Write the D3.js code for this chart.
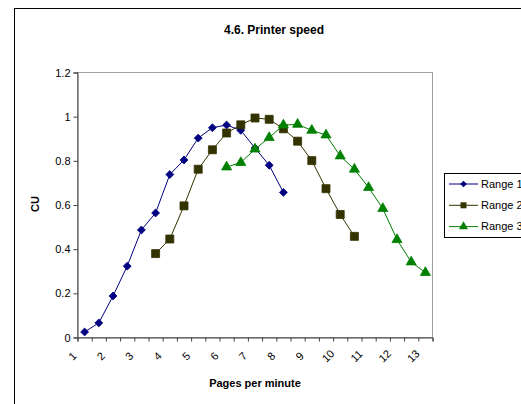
<!DOCTYPE html>
<html>
<head>
<meta charset="utf-8">
<script src="https://cdn.jsdelivr.net/npm/d3@7/dist/d3.min.js"></script>
<style>
  html, body { margin: 0; padding: 0; background: #fff; }
  svg { display: block; font-family: "Liberation Sans", Arial, sans-serif; }
</style>
</head>
<body>
<svg id="chart" width="521" height="404"></svg>
<script>
// ---- data ----
const categories = [1.25, 1.75, 2.25, 2.75, 3.25, 3.75, 4.25, 4.75, 5.25, 5.75,
                    6.25, 6.75, 7.25, 7.75, 8.25, 8.75, 9.25, 9.75, 10.25, 10.75,
                    11.25, 11.75, 12.25, 12.75, 13.25];
const range1 = [0.025, 0.066, 0.188, 0.323, 0.487, 0.564, 0.738, 0.804, 0.903, 0.950,
                0.962, 0.938, 0.858, 0.780, 0.657, null, null, null, null, null,
                null, null, null, null, null];
const range2 = [null, null, null, null, null, 0.380, 0.446, 0.596, 0.762, 0.850,
                0.926, 0.963, 0.994, 0.988, 0.945, 0.889, 0.801, 0.674, 0.557, 0.458,
                null, null, null, null, null];
const range3 = [null, null, null, null, null, null, null, null, null, null,
                0.772, 0.792, 0.853, 0.905, 0.962, 0.965, 0.938, 0.917, 0.822, 0.762,
                0.679, 0.584, 0.443, 0.342, 0.294];
const seriesNames = ["Range 1", "Range 2", "Range 3"];
const xTickLabels = [1, 2, 3, 4, 5, 6, 7, 8, 9, 10, 11, 12, 13];
const xMinorTicks = [1, 1.5, 2, 2.5, 3, 3.5, 4, 4.5, 5, 5.5, 6, 6.5, 7, 7.5, 8, 8.5,
                     9, 9.5, 10, 10.5, 11, 11.5, 12, 12.5, 13, 13.5];
const yTicks = [0, 0.2, 0.4, 0.6, 0.8, 1, 1.2];

// ---- layout ----
const svg = d3.select("#chart");
const pLeft = 77.5, pRight = 432.5, pTop = 72.5, pBottom = 337.5;
const x = d3.scaleLinear().domain([1, 13.5]).range([pLeft, pRight]);
const y = d3.scaleLinear().domain([0, 1.2]).range([pBottom, pTop]);

// outer chart frame
svg.append("rect").attr("x", 14.5).attr("y", 8.5).attr("width", 540).attr("height", 420)
  .attr("fill", "#fff").attr("stroke", "#000").attr("stroke-width", 1);

// plot area frame
svg.append("rect").attr("x", pLeft).attr("y", pTop).attr("width", pRight - pLeft).attr("height", pBottom - pTop)
  .attr("fill", "#fff").attr("stroke", "#a0a0a0").attr("stroke-width", 1);

// title
svg.append("text").attr("x", 274).attr("y", 34).attr("text-anchor", "middle")
  .attr("font-size", 12).attr("font-weight", "bold").text("4.6. Printer speed");

// y axis
const yAxis = svg.append("g").attr("transform", `translate(${pLeft},0)`)
  .call(d3.axisLeft(y).tickValues(yTicks).tickSize(4).tickPadding(3)
        .tickFormat(d => String(+d.toFixed(1))));
yAxis.select(".domain").attr("stroke", "#404040");
yAxis.selectAll(".tick line").attr("stroke", "#404040");
yAxis.selectAll(".tick text").attr("font-size", 11).attr("fill", "#000")
  .attr("font-family", "'Liberation Sans', Arial, sans-serif");

// x axis
const xAxis = svg.append("g").attr("transform", `translate(0,${pBottom})`)
  .call(d3.axisBottom(x).tickValues(xMinorTicks).tickSize(4).tickFormat(""));
xAxis.select(".domain").attr("stroke", "#404040");
xAxis.selectAll(".tick line").attr("stroke", "#404040");

svg.append("g").selectAll("text").data(xTickLabels).join("text")
  .attr("transform", d => `translate(${x(d) - 5},356) rotate(-45)`)
  .attr("text-anchor", "middle").attr("dy", "0.35em")
  .attr("font-size", 11).text(d => d);

// axis titles
svg.append("text").attr("transform", "translate(39,204) rotate(-90)")
  .attr("text-anchor", "middle").attr("font-size", 11).attr("font-weight", "bold").text("CU");
svg.append("text").attr("x", 255).attr("y", 387).attr("text-anchor", "middle")
  .attr("font-size", 11).attr("font-weight", "bold").text("Pages per minute");

// series
const colors = ["#000080", "#333300", "#008000"];
const allSeries = [range1, range2, range3];
const markerPath = [
  d3.symbol().type(d3.symbolDiamond2).size(40)(),
  d3.symbol().type(d3.symbolSquare).size(64)(),
  d3.symbol().type(d3.symbolTriangle).size(44)()
];
const line = d3.line()
  .defined(d => d.v != null)
  .x(d => x(d.c)).y(d => y(d.v));

allSeries.forEach((vals, si) => {
  const pts = categories.map((c, i) => ({c, v: vals[i]}));
  svg.append("path").datum(pts).attr("d", line)
    .attr("fill", "none").attr("stroke", colors[si]).attr("stroke-width", 1);
  svg.append("g").selectAll("path").data(pts.filter(d => d.v != null)).join("path")
    .attr("transform", d => `translate(${x(d.c)},${y(d.v)})`)
    .attr("d", markerPath[si]).attr("fill", colors[si]).attr("stroke", colors[si]).attr("stroke-width", 0.8);
});

// legend
const lg = svg.append("g");
lg.append("rect").attr("x", 444.5).attr("y", 173.5).attr("width", 100).attr("height", 64)
  .attr("fill", "#fff").attr("stroke", "#000").attr("stroke-width", 1);
seriesNames.forEach((name, i) => {
  const yy = 184 + i * 21.3;
  lg.append("line").attr("x1", 449).attr("x2", 478).attr("y1", yy).attr("y2", yy)
    .attr("stroke", colors[i]).attr("stroke-width", 1);
  lg.append("path").attr("transform", `translate(463.5,${yy})`)
    .attr("d", d3.symbol().type([d3.symbolDiamond2, d3.symbolSquare, d3.symbolTriangle][i]).size(i === 0 ? 28 : 36)())
    .attr("fill", colors[i]);
  lg.append("text").attr("x", 481).attr("y", yy).attr("dy", "0.35em")
    .attr("font-size", 11).text(name);
});
</script>
</body>
</html>
